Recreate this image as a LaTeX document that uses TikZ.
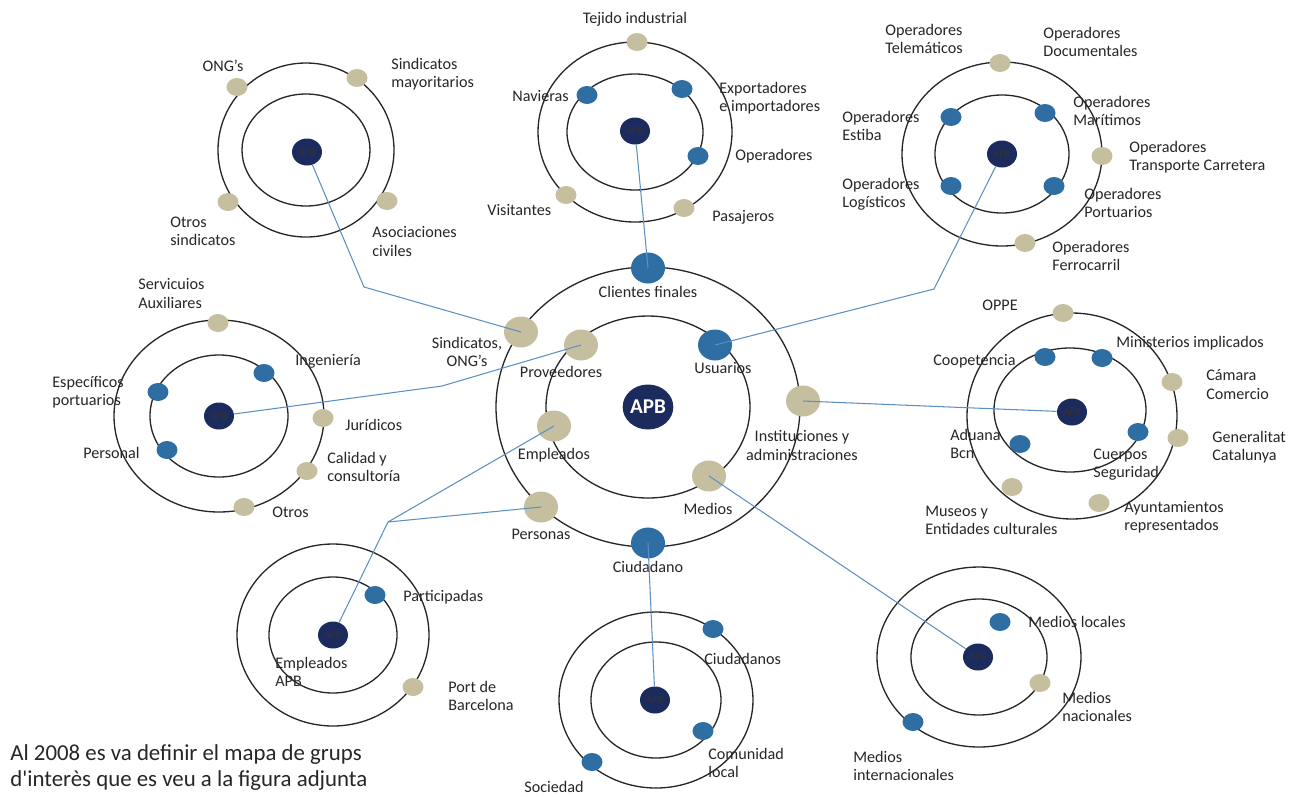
\documentclass[tikz,border=0pt]{standalone}
\usepackage{fontspec}
\setmainfont{Carlito}
\usepackage{tikz}
\usetikzlibrary{shapes.geometric}
\definecolor{apbnavy}{HTML}{1B2B5E}
\definecolor{ballblue}{HTML}{2F6EA3}
\definecolor{balltan}{HTML}{C5BF9F}
\definecolor{linkblue}{HTML}{5E8FC4}
\tikzset{
  ring/.style={draw=black!85, line width=0.75pt},
  link/.style={draw=linkblue, line width=0.6pt},
  hub/.style={ellipse, fill=apbnavy, minimum width=0.6cm, minimum height=0.54cm,
    inner sep=0pt, text=black!80, font=\fontsize{6}{6}\selectfont},
  mainhub/.style={ellipse, fill=apbnavy, minimum width=0.98cm, minimum height=0.9cm,
    inner sep=0pt, text=white, font=\fontsize{12}{12}\selectfont\bfseries},
  tanball/.style={ellipse, fill=balltan, minimum width=0.42cm, minimum height=0.36cm, inner sep=0pt},
  blueball/.style={ellipse, fill=ballblue, minimum width=0.42cm, minimum height=0.36cm, inner sep=0pt},
  bigtanball/.style={ellipse, fill=balltan, minimum width=0.68cm, minimum height=0.62cm, inner sep=0pt},
  bigblueball/.style={ellipse, fill=ballblue, minimum width=0.68cm, minimum height=0.62cm, inner sep=0pt},
  lbl/.style={font=\fontsize{9.2}{10.3}\selectfont, text=black!85, align=left, inner sep=0pt, anchor=west},
  clbl/.style={lbl, align=center, anchor=center},
}

\begin{document}
\begin{tikzpicture}[x=0.02cm, y=-0.02cm]
  \useasboundingbox (0,0) rectangle (1296,796);

  % centres of the orbit groups
  \coordinate (ong) at (306,150);
  \coordinate (tej) at (635,132);
  \coordinate (ope) at (1002,154);
  \coordinate (ser) at (219,416);
  \coordinate (ctr) at (648,407);
  \coordinate (adm) at (1072,416);
  \coordinate (par) at (333,635);
  \coordinate (soc) at (656,700);
  \coordinate (mdc) at (979,657);

  % rings
  \draw[ring] (ong) ellipse (88 and 87);   \draw[ring] (ong) ellipse (64 and 56);
  \draw[ring] (tej) ellipse (97 and 90);   \draw[ring] (tej) ellipse (68 and 58);
  \draw[ring] (ope) ellipse (100 and 92);  \draw[ring] (ope) ellipse (67 and 59);
  \draw[ring] (ser) ellipse (105 and 96);  \draw[ring] (ser) ellipse (69 and 61);
  \draw[ring] (ctr) ellipse (152 and 140); \draw[ring] (ctr) ellipse (102 and 91);
  \draw[ring] (adm) ellipse (105 and 103); \draw[ring] (1070,410) ellipse (76 and 62);
  \draw[ring] (par) ellipse (96 and 91);   \draw[ring] (par) ellipse (64 and 58);
  \draw[ring] (soc) ellipse (97 and 88);   \draw[ring] (soc) ellipse (65 and 58);
  \draw[ring] (mdc) ellipse (102 and 90);  \draw[ring] (mdc) ellipse (68 and 58);

  % labels
  \node[clbl] (l-ong-a) at (223,66) {ONG’s};
  \node[lbl] (l-ong-b) at (391,74) {Sindicatos\\mayoritarios};
  \node[lbl] (l-ong-c) at (170,231.5) {Otros\\sindicatos};
  \node[lbl] (l-ong-d) at (372,241.5) {Asociaciones\\civiles};

  \node[clbl] (l-tej-a) at (635,19) {Tejido industrial};
  \node[lbl] (l-tej-b) at (512,96) {Navieras};
  \node[lbl] (l-tej-c) at (719,98) {Exportadores\\e importadores};
  \node[lbl] (l-tej-d) at (735,156) {Operadores};
  \node[lbl] (l-tej-e) at (487,210) {Visitantes};
  \node[lbl] (l-tej-f) at (712,217) {Pasajeros};

  \node[lbl] (l-ope-a) at (885,39) {Operadores\\Telemáticos};
  \node[lbl] (l-ope-h) at (1043,42) {Operadores\\Documentales};
  \node[lbl] (l-ope-b) at (842,126) {Operadores\\Estiba};
  \node[lbl] (l-ope-c) at (1073,110.5) {Operadores\\Marítimos};
  \node[lbl] (l-ope-d) at (1129,157) {Operadores\\Transporte Carretera};
  \node[lbl] (l-ope-e) at (842,194.5) {Operadores\\Logísticos};
  \node[lbl] (l-ope-f) at (1084,203) {Operadores\\Portuarios};
  \node[lbl] (l-ope-g) at (1052,256) {Operadores\\Ferrocarril};

  \node[lbl] (l-ser-a) at (138,293.5) {Servicuios\\Auxiliares};
  \node[lbl] (l-ser-b) at (295,361) {Ingeniería};
  \node[lbl] (l-ser-c) at (52,392) {Específicos\\portuarios};
  \node[lbl] (l-ser-d) at (345,425) {Jurídicos};
  \node[lbl] (l-ser-e) at (83,453) {Personal};
  \node[lbl] (l-ser-f) at (327,466.5) {Calidad y\\consultoría};
  \node[lbl] (l-ser-g) at (272,512) {Otros};

  \node[clbl] (l-cli) at (648,292) {Clientes finales};
  \node[clbl] (l-sin) at (467,352) {Sindicatos,\\ONG’s};
  \node[clbl] (l-pro) at (561,372) {Proveedores};
  \node[clbl] (l-usu) at (723,368) {Usuarios};
  \node[clbl] (l-ins) at (802,445.5) {Instituciones y\\administraciones};
  \node[clbl] (l-emp) at (554,455) {Empleados};
  \node[clbl] (l-med) at (708,509) {Medios};
  \node[clbl] (l-per) at (541,534) {Personas};
  \node[clbl] (l-ciu) at (648,567) {Ciudadano};

  \node[clbl] (l-adm-a) at (1000,305) {OPPE};
  \node[lbl] (l-adm-b) at (1116,343) {Ministerios implicados};
  \node[lbl] (l-adm-c) at (933,361) {Coopetencia};
  \node[lbl] (l-adm-d) at (1206,384.5) {Cámara\\Comercio};
  \node[lbl] (l-adm-e) at (1093,464.5) {Cuerpos\\Seguridad};
  \node[lbl] (l-adm-f) at (1212,447.5) {Generalitat\\Catalunya};
  \node[lbl] (l-adm-g) at (950,444) {Aduana\\Bcn};
  \node[lbl] (l-adm-h) at (925,520) {Museos y\\Entidades culturales};
  \node[lbl] (l-adm-i) at (1124,517.5) {Ayuntamientos\\representados};

  \node[lbl] (l-par-a) at (403,597) {Participadas};
  \node[lbl] (l-par-b) at (448,696) {Port de\\Barcelona};
  \node[lbl] (l-par-c) at (275,671.5) {Empleados\\APB};

  \node[lbl] (l-soc-a) at (704,659) {Ciudadanos};
  \node[lbl] (l-soc-b) at (708,763) {Comunidad\\local};
  \node[lbl] (l-soc-c) at (524,787) {Sociedad};

  \node[lbl] (l-mdc-a) at (1028,622) {Medios locales};
  \node[lbl] (l-mdc-b) at (1062,707) {Medios\\nacionales};
  \node[lbl] (l-mdc-c) at (853,766) {Medios\\internacionales};

  % balls
  \node[hub] (ong-apb) at (307,152) {APB};
  \node[tanball] (ong-a) at (237,87) {};
  \node[tanball] (ong-b) at (357,78) {};
  \node[tanball] (ong-c) at (228,202) {};
  \node[tanball] (ong-d) at (387,201) {};

  \node[hub] (tej-apb) at (635,131) {APB};
  \node[tanball] (tej-a) at (637,42) {};
  \node[blueball] (tej-b) at (587,95) {};
  \node[blueball] (tej-c) at (682,89) {};
  \node[blueball] (tej-d) at (698,156) {};
  \node[tanball] (tej-e) at (566,195) {};
  \node[tanball] (tej-f) at (684,208) {};

  \node[hub] (ope-apb) at (1002,154) {APB};
  \node[tanball] (ope-a) at (1000,63) {};
  \node[blueball] (ope-b) at (951,117) {};
  \node[blueball] (ope-c) at (1045,113) {};
  \node[tanball] (ope-d) at (1102,156) {};
  \node[blueball] (ope-e) at (951,186) {};
  \node[blueball] (ope-f) at (1054,186) {};
  \node[tanball] (ope-g) at (1025,243) {};

  \node[hub] (ser-apb) at (219,416) {APB};
  \node[tanball] (ser-a) at (218,323) {};
  \node[blueball] (ser-b) at (264,373) {};
  \node[blueball] (ser-c) at (158,392) {};
  \node[tanball] (ser-d) at (323,418) {};
  \node[blueball] (ser-e) at (167,450) {};
  \node[tanball] (ser-f) at (307,471) {};
  \node[tanball] (ser-g) at (244,507) {};

  \node[mainhub] (apb) at (648,407) {APB};
  \node[bigblueball] (cli) at (648,268) {};
  \node[bigtanball] (sin) at (521,332) {};
  \node[bigtanball] (pro) at (581,345) {};
  \node[bigblueball] (usu) at (715,345) {};
  \node[bigtanball] (ins) at (803,401) {};
  \node[bigtanball] (emp) at (554,426) {};
  \node[bigtanball] (med) at (709,476) {};
  \node[bigtanball] (per) at (541,507) {};
  \node[bigblueball] (ciu) at (648,543) {};

  \node[hub] (adm-apb) at (1072,412) {APB};
  \node[tanball] (adm-a) at (1063,313) {};
  \node[blueball] (adm-b) at (1102,358) {};
  \node[blueball] (adm-c) at (1045,357) {};
  \node[tanball] (adm-d) at (1172,382) {};
  \node[blueball] (adm-e) at (1138,432) {};
  \node[tanball] (adm-f) at (1178,438) {};
  \node[blueball] (adm-g) at (1020,444) {};
  \node[tanball] (adm-h) at (1012,487) {};
  \node[tanball] (adm-i) at (1099,503) {};

  \node[hub] (par-apb) at (333,635) {APB};
  \node[blueball] (par-a) at (375,595) {};
  \node[tanball] (par-b) at (413,687) {};

  \node[hub] (soc-apb) at (655,700) {APB};
  \node[blueball] (soc-a) at (713,629) {};
  \node[blueball] (soc-b) at (703,731) {};
  \node[blueball] (soc-c) at (592,762) {};

  \node[hub] (mdc-apb) at (978,657) {APB};
  \node[blueball] (mdc-a) at (1000,622) {};
  \node[tanball] (mdc-b) at (1040,683) {};
  \node[blueball] (mdc-c) at (913,722) {};

  % links to the central map
  \coordinate (bend-ong) at (364,287);
  \coordinate (bend-ope) at (934,289);
  \coordinate (bend-ser) at (442,386);
  \coordinate (bend-par) at (388,522);
  \draw[link] (ong-apb) -- (bend-ong) -- (sin.center);
  \draw[link] (tej-apb) -- (cli.center);
  \draw[link] (ope-apb) -- (bend-ope) -- (usu.center);
  \draw[link] (ser-apb) -- (bend-ser) -- (pro.center);
  \draw[link] (adm-apb) -- (ins.center);
  \draw[link] (par-apb) -- (bend-par) -- (emp.center);
  \draw[link] (bend-par) -- (per.center);
  \draw[link] (soc-apb) -- (ciu.center);
  \draw[link] (mdc-apb) -- (med.center);

  \node[lbl, font=\fontsize{13}{14.5}\selectfont] (note) at (10,767.5)
    {Al 2008 es va definir el mapa de grups\\d\textquotesingle interès que es veu a la figura adjunta};
\end{tikzpicture}
\end{document}
